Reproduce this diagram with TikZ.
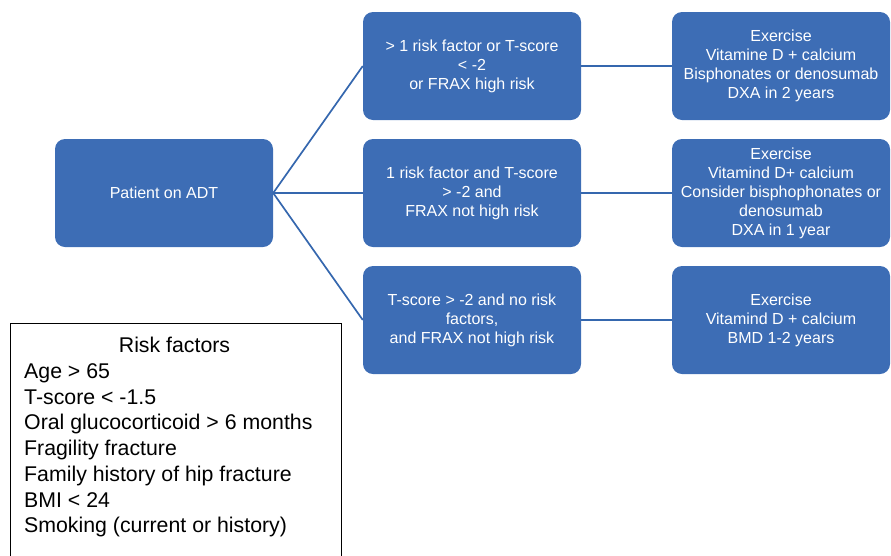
\documentclass[tikz,border=0pt]{standalone}
\usepackage{fontspec}
\setmainfont{Liberation Sans}
\definecolor{boxblue}{HTML}{3D6DB5}
\definecolor{lineblue}{HTML}{3567AE}
\begin{document}
\begin{tikzpicture}[x=1pt,y=-1pt,
  stepbox/.style={fill=boxblue, rounded corners=10pt, minimum width=218pt,
    minimum height=108pt, text=white, align=center, inner sep=2pt,
    font=\fontsize{16}{19}\selectfont},
  link/.style={draw=lineblue, line width=1.7pt},
  risktext/.style={anchor=base west, inner sep=0pt, font=\fontsize{21.3}{25.3}\selectfont}]
\useasboundingbox (0,0) rectangle (891,555);

% decision tree
\node[stepbox] (adt) at (164,193) {Patient on ADT};
\node[stepbox] (high) at (472,66) {> 1 risk factor or T-score\\< -2\\or FRAX high risk};
\node[stepbox] (mid) at (472,193) {1 risk factor and T-score\\> -2 and\\FRAX not high risk};
\node[stepbox] (low) at (472,320) {T-score > -2 and no risk\\factors,\\and FRAX not high risk};
\node[stepbox] (treathigh) at (781,66) {Exercise\\Vitamine D + calcium\\Bisphonates or denosumab\\DXA in 2 years};
\node[stepbox] (treatmid) at (781,193) {Exercise\\Vitamind D+ calcium\\Consider bisphophonates or\\denosumab\\DXA in 1 year};
\node[stepbox] (treatlow) at (781,320) {Exercise\\Vitamind D + calcium\\BMD 1-2 years};

\draw[link] (adt.east) -- (high.west);
\draw[link] (adt.east) -- (mid.west);
\draw[link] (adt.east) -- (low.west);
\draw[link] (high.east) -- (treathigh.west);
\draw[link] (mid.east) -- (treatmid.west);
\draw[link] (low.east) -- (treatlow.west);

% risk factor legend
\node[draw=black, line width=0.9pt, anchor=north west, minimum width=331pt,
  minimum height=245pt, inner sep=0pt] (riskbox) at (9.5,322.5) {};
\node[risktext, anchor=base] (risktitle) at (174.5,352) {Risk factors};
\foreach \t [count=\i] in {Age > 65, T-score < -1.5, Oral glucocorticoid > 6 months,
  Fragility fracture, Family history of hip fracture, BMI < 24,
  Smoking (current or history)}
  \node[risktext] (rf\i) at (24,378.5+25.7*\i-25.7) {\t};
\end{tikzpicture}
\end{document}
